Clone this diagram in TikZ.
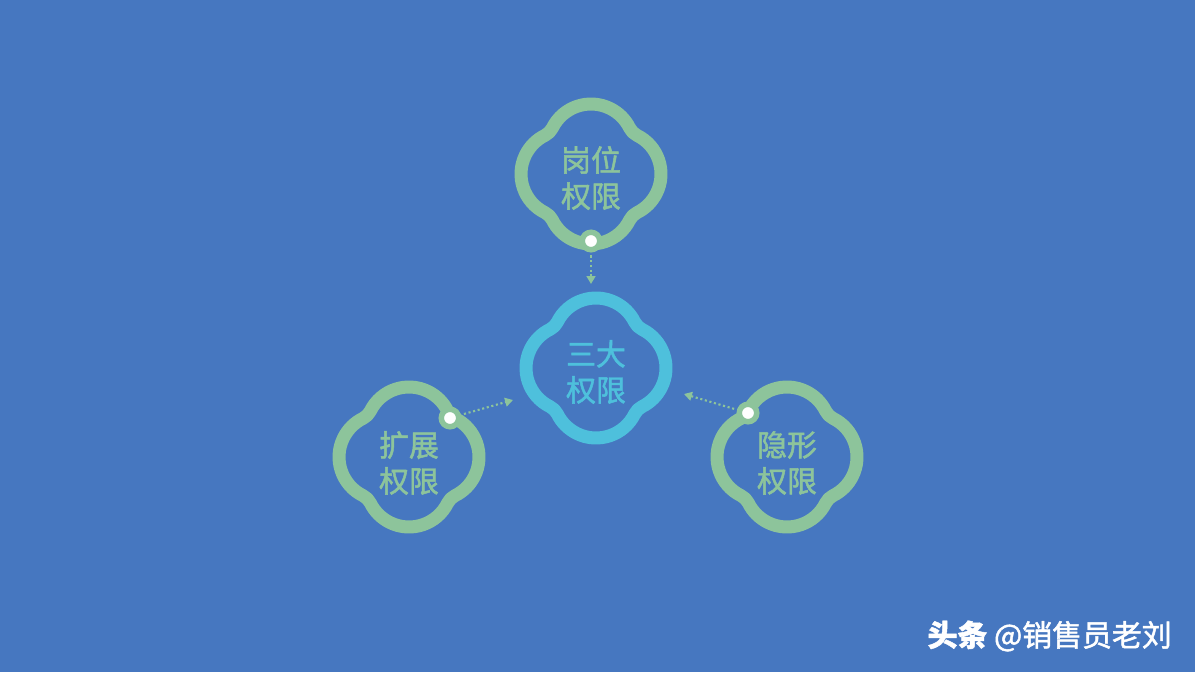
\documentclass[tikz,border=0pt]{standalone}
\usepackage{fontspec}
\newfontfamily\cjk{Noto Sans CJK SC}[FakeBold=1.6]
\usetikzlibrary{arrows.meta,positioning}
\definecolor{bgblue}{RGB}{70,119,192}
\definecolor{leafgreen}{RGB}{141,196,155}
\definecolor{corecyan}{RGB}{78,192,220}

\begin{document}
\begin{tikzpicture}
  [x=0.02cm,y=-0.02cm,
   label/.style={font=\cjk\fontsize{17}{20.5}\selectfont,align=center,
                 inner sep=0pt},
   clover/.style={line width=0.26cm,line join=round},
   dot/.style={circle,fill=white,draw=leafgreen,line width=0.11cm,
               inner sep=0pt,minimum size=0.35cm},
   link/.style={leafgreen,line width=1.2pt,dash pattern=on 1.2pt off 1.5pt,
                -{Triangle[length=4.5pt,width=5pt,sep=0pt]},shorten <=1.7pt}]
  \fill[bgblue] (0,0) rectangle (1195,672);
  \node[label,text=leafgreen] (post)   at (591,178) {岗位\\权限};
  \node[label,text=corecyan]  (core)   at (596,372) {三大\\权限};
  \node[label,text=leafgreen] (extend) at (409,463) {扩展\\权限};
  \node[label,text=leafgreen] (hidden) at (787,463) {隐形\\权限};
  % clover rings: four lobe arcs joined by small fillets
  \foreach \c/\x/\y in {leafgreen/591/174,corecyan/596/368,
                        leafgreen/409/457,leafgreen/787/457}
    \draw[clover,draw=\c,shift={(\x,\y)}]
      ({26.87+43.13*cos(-63.74)},{43.13*sin(-63.74)})
      \foreach \k in {0,90,180,270}{
        arc[start angle=\k-63.74,end angle=\k+63.74,radius=43.13]
        arc[start angle=\k+243.74,end angle=\k+206.26,radius=16]
      } -- cycle;
  \node[dot] (post dot)   at (591,241) {};
  \node[dot] (extend dot) at (450,418) {};
  \node[dot] (hidden dot) at (748,413) {};
  \coordinate (post tip)   at (591,284);
  \coordinate (extend tip) at (513,400);
  \coordinate (hidden tip) at (684,394);
  \draw[link] (post dot)   -- (post tip);
  \draw[link] (extend dot) -- (extend tip);
  \draw[link] (hidden dot) -- (hidden tip);
  \node[font=\cjk\fontsize{17}{20}\selectfont,text=white,anchor=east,
        inner sep=0pt] (mark) at (1172,636) {{\bfseries 头条} @销售员老刘};
\end{tikzpicture}
\end{document}
